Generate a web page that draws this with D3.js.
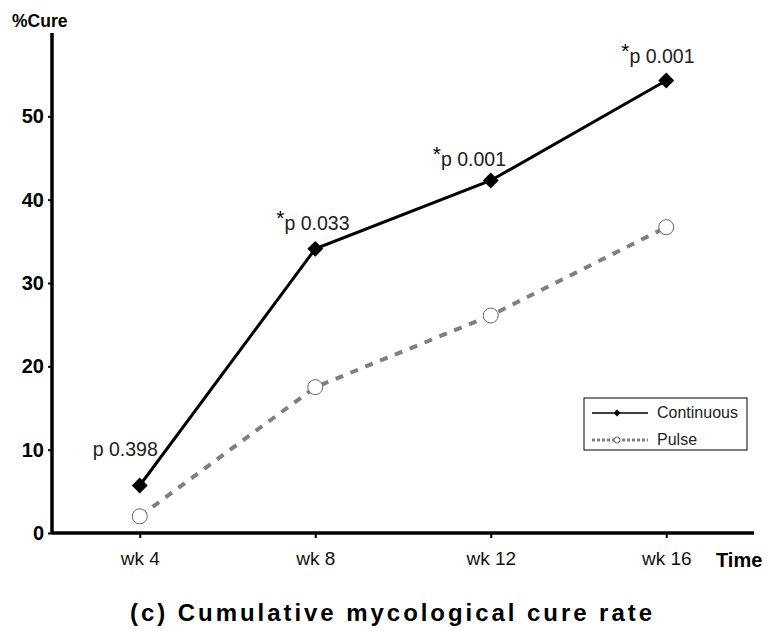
<!DOCTYPE html>
<html>
<head>
<meta charset="utf-8">
<script src="https://cdn.jsdelivr.net/npm/d3@7"></script>
<style>
  body { margin: 0; background: #fff; }
  svg { font-family: "Liberation Sans", Arial, sans-serif; }
</style>
</head>
<body>
<script>
// chart data
var weeks = [4, 8, 12, 16];
var weekLabels = ["wk 4", "wk 8", "wk 12", "wk 16"];
var continuous = [5.7, 34.1, 42.3, 54.3];
var pulse = [2.0, 17.5, 26.1, 36.7];
var pLabels = ["p 0.398", "p 0.033", "p 0.001", "p 0.001"];
var starred = [false, true, true, true];
var yTicks = [0, 10, 20, 30, 40, 50];

// where each p label sits relative to its point
var labDx = [-47, -29, -48, -35];
var labDy = [-30, -19, -15, -18];

var width = 767, height = 631;
var svg = d3.select("body").append("svg")
    .attr("width", width)
    .attr("height", height);

// scales
var x = d3.scaleLinear().domain([2, 18]).range([52, 754]);
var y = d3.scaleLinear().domain([0, 60]).range([533, 33]);

// y axis
var yAxis = d3.axisLeft(y).tickValues(yTicks).tickSize(4).tickPadding(4);
var gy = svg.append("g").attr("transform", "translate(52,0)").call(yAxis);
gy.select(".domain").attr("stroke-width", 3.5).attr("d", "M0," + y(60) + "V" + y(0));
gy.selectAll(".tick line").attr("stroke-width", 2);
gy.selectAll(".tick text")
    .attr("font-size", 20).attr("font-weight", "bold")
    .attr("font-family", "Liberation Sans, Arial, sans-serif").attr("fill", "#000");

// x axis
var xAxis = d3.axisBottom(x).tickValues(weeks)
    .tickFormat(function(d, i) { return weekLabels[i]; })
    .tickSize(5).tickPadding(14);
var gx = svg.append("g").attr("transform", "translate(0," + y(0) + ")").call(xAxis);
gx.select(".domain").attr("stroke-width", 3.5).attr("d", "M" + x(2) + ",0H" + x(18));
gx.selectAll(".tick line").attr("stroke-width", 2);
gx.selectAll(".tick text")
    .attr("font-size", 19)
    .attr("font-family", "Liberation Sans, Arial, sans-serif").attr("fill", "#111");

// axis titles
svg.append("text").attr("x", 12).attr("y", 27)
    .attr("font-size", 17.5).attr("font-weight", "bold").text("%Cure");
svg.append("text").attr("x", 716).attr("y", 567)
    .attr("font-size", 20).attr("font-weight", "bold").text("Time");
svg.append("text").attr("x", 130).attr("y", 621)
    .attr("font-size", 24).attr("font-weight", "bold")
    .attr("textLength", 522).attr("lengthAdjust", "spacing")
    .text("(c) Cumulative mycological cure rate");

// pulse series
var pulseLine = d3.line().x(function(d, i) { return x(weeks[i]); }).y(function(d) { return y(d); });
svg.append("path").datum(pulse)
    .attr("d", pulseLine)
    .attr("fill", "none").attr("stroke", "#7f7f7f")
    .attr("stroke-width", 4).attr("stroke-dasharray", "8,8");
svg.selectAll(".pulse-pt").data(pulse).enter().append("circle")
    .attr("class", "pulse-pt")
    .attr("cx", function(d, i) { return x(weeks[i]); })
    .attr("cy", function(d) { return y(d); })
    .attr("r", 7.5)
    .attr("fill", "#fff").attr("stroke", "#666").attr("stroke-width", 1);

// continuous series
var contLine = d3.line().x(function(d, i) { return x(weeks[i]); }).y(function(d) { return y(d); });
svg.append("path").datum(continuous)
    .attr("d", contLine)
    .attr("fill", "none").attr("stroke", "#000").attr("stroke-width", 3);
var diamond = d3.symbol().type(d3.symbolDiamond2).size(160);
svg.selectAll(".cont-pt").data(continuous).enter().append("path")
    .attr("class", "cont-pt")
    .attr("transform", function(d, i) { return "translate(" + x(weeks[i]) + "," + y(d) + ")"; })
    .attr("d", diamond).attr("fill", "#000");

// p-value labels
var lab = svg.selectAll(".plab").data(continuous).enter().append("text")
    .attr("class", "plab")
    .attr("x", function(d, i) { return x(weeks[i]) + labDx[i] - (starred[i] ? 10 : 0); })
    .attr("y", function(d, i) { return y(d) + labDy[i]; })
    .attr("font-size", 19.5).attr("fill", "#222");
lab.filter(function(d, i) { return starred[i]; }).append("tspan")
    .attr("font-size", 21).attr("dy", -5).attr("fill", "#000").text("*");
lab.append("tspan")
    .attr("dy", function(d, i) { return starred[i] ? 5 : 0; })
    .text(function(d, i) { return pLabels[i]; });

// legend
var lg = svg.append("g").attr("transform", "translate(584,398)");
lg.append("rect").attr("width", 163).attr("height", 52)
    .attr("fill", "#fff").attr("stroke", "#000").attr("stroke-width", 1);
lg.append("line").attr("x1", 8).attr("x2", 64).attr("y1", 15).attr("y2", 15)
    .attr("stroke", "#000").attr("stroke-width", 1.5);
lg.append("path").attr("transform", "translate(33,15)")
    .attr("d", d3.symbol().type(d3.symbolDiamond2).size(30)).attr("fill", "#000");
lg.append("line").attr("x1", 8).attr("x2", 64).attr("y1", 42).attr("y2", 42)
    .attr("stroke", "#7f7f7f").attr("stroke-width", 3).attr("stroke-dasharray", "3,2");
lg.append("circle").attr("cx", 33).attr("cy", 42).attr("r", 3)
    .attr("fill", "#fff").attr("stroke", "#666");
lg.append("text").attr("x", 73).attr("y", 20).attr("font-size", 16).attr("fill", "#222").text("Continuous");
lg.append("text").attr("x", 73).attr("y", 47).attr("font-size", 16).attr("fill", "#222").text("Pulse");
</script>
</body>
</html>
